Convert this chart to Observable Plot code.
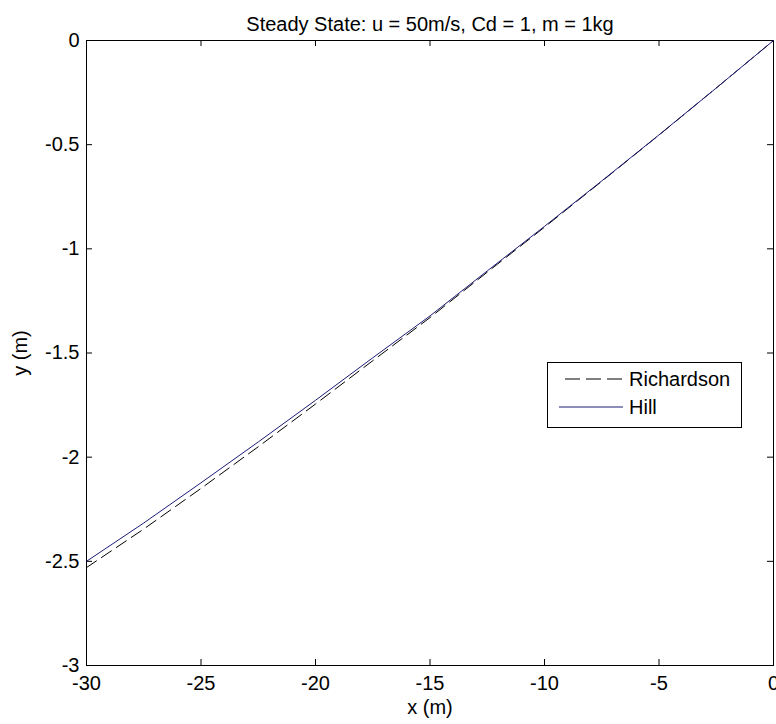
<!DOCTYPE html>
<html>
<head>
<meta charset="utf-8">
<script src="https://cdn.jsdelivr.net/npm/d3@7"></script>
<script src="https://cdn.jsdelivr.net/npm/@observablehq/plot@0.6"></script>
<style>
  body { margin: 0; background: #fff; }
  #wrap { position: relative; width: 776px; height: 724px; }
  #legend { position: absolute; left: 547px; top: 362px; width: 193px; height: 64px;
    border: 1px solid #000; background: #fff; font-family: "Liberation Sans", Arial, sans-serif; font-size: 20px; }
  #legend .row { position: absolute; left: 0; display: flex; align-items: center; height: 26px; }
  #legend span { position: absolute; left: 81px; white-space: nowrap; line-height: 26px; top: 0; }
</style>
</head>
<body>
<div id="wrap"></div>
<script>
const titleText = "Steady State: u = 50m/s, Cd = 1, m = 1kg";
const xLabel = "x (m)";
const yLabel = "y (m)";
const xTicks = [-30, -25, -20, -15, -10, -5, 0];
const yTicks = [-3, -2.5, -2, -1.5, -1, -0.5, 0];
const xs = [-30, -27.5, -25, -22.5, -20, -17.5, -15, -12.5, -10, -7.5, -5, -2.5, 0];
const richardson = [-2.53, -2.345, -2.15, -1.95, -1.745, -1.537, -1.33, -1.112, -0.896, -0.676, -0.454, -0.228, 0];
const hill = [-2.50, -2.316, -2.123, -1.927, -1.727, -1.523, -1.322, -1.106, -0.892, -0.674, -0.453, -0.228, 0];
const seriesNames = ["Richardson", "Hill"];
const seriesColors = ["#000000", "#1c1c78"];
const seriesDash = ["12,6", null];

const rData = xs.map((x, i) => ({x, y: richardson[i]}));
const hData = xs.map((x, i) => ({x, y: hill[i]}));

const W = 776, H = 724;
const mL = 86, mR = 3, mT = 40, mB = 59;
const fw = W - mL - mR, fh = H - mT - mB;
const tick = 6;

const chart = Plot.plot({
  width: W, height: H,
  marginLeft: mL, marginRight: mR, marginTop: mT, marginBottom: mB,
  style: {fontFamily: "'Liberation Sans', Arial, sans-serif", fontSize: "20px", color: "#000", background: "#fff", overflow: "visible"},
  x: {domain: [-30, 0]},
  y: {domain: [-3, 0]},
  marks: [
    Plot.frame({stroke: "#000", strokeWidth: 1}),
    // inward ticks on all four sides
    Plot.ruleX(xTicks, {insetTop: fh - tick, stroke: "#000"}),
    Plot.ruleX(xTicks, {insetBottom: fh - tick, stroke: "#000"}),
    Plot.ruleY(yTicks, {insetRight: fw - tick, stroke: "#000"}),
    Plot.ruleY(yTicks, {insetLeft: fw - tick, stroke: "#000"}),
    Plot.axisX(xTicks, {ticks: xTicks, tickSize: 0, tickPadding: 10, tickFormat: d => String(d),
      label: xLabel, labelAnchor: "center", labelArrow: false, labelOffset: 48}),
    Plot.axisY(yTicks, {ticks: yTicks, tickSize: 0, tickPadding: 7, tickFormat: d => String(d),
      label: yLabel, labelAnchor: "center", labelArrow: false, labelOffset: 74}),
    Plot.line(rData, {x: "x", y: "y", stroke: seriesColors[0], strokeWidth: 1, strokeDasharray: seriesDash[0]}),
    Plot.line(hData, {x: "x", y: "y", stroke: seriesColors[1], strokeWidth: 1}),
    Plot.text([titleText], {text: d => d, frameAnchor: "top", dy: -24, fontSize: 20, fill: "#000"})
  ]
});
const wrap = document.getElementById("wrap");
wrap.appendChild(chart);

// legend
const lg = document.createElement("div");
lg.id = "legend";
const rows = [{top: 3}, {top: 31}];
seriesNames.forEach((name, i) => {
  const row = document.createElement("div");
  row.className = "row";
  row.style.top = rows[i].top + "px";
  row.style.width = "193px";
  const svgns = "http://www.w3.org/2000/svg";
  const s = document.createElementNS(svgns, "svg");
  s.setAttribute("width", 80); s.setAttribute("height", 26);
  s.style.position = "absolute"; s.style.left = "0"; s.style.top = "0";
  const ln = document.createElementNS(svgns, "line");
  ln.setAttribute("x1", i === 0 ? 17 : 11); ln.setAttribute("x2", 75);
  ln.setAttribute("y1", 13); ln.setAttribute("y2", 13);
  ln.setAttribute("stroke", seriesColors[i]);
  if (seriesDash[i]) ln.setAttribute("stroke-dasharray", "15,6");
  s.appendChild(ln);
  row.appendChild(s);
  const t = document.createElement("span");
  t.textContent = name;
  row.appendChild(t);
  lg.appendChild(row);
});
wrap.appendChild(lg);
</script>
</body>
</html>
